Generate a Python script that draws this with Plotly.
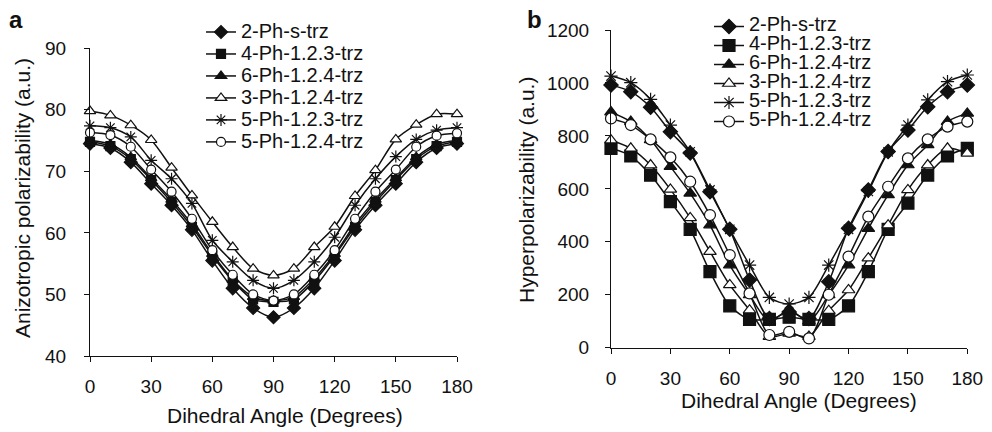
import plotly.graph_objects as go

# ---------------- data ----------------
angles = [0, 10, 20, 30, 40, 50, 60, 70, 80, 90, 100, 110, 120, 130, 140, 150, 160, 170, 180]
series_names = ["2-Ph-s-trz", "4-Ph-1.2.3-trz", "6-Ph-1.2.4-trz",
                "3-Ph-1.2.4-trz", "5-Ph-1.2.3-trz", "5-Ph-1.2.4-trz"]

# panel a: anisotropic polarizability (a.u.)
pol_2Ph_s = [74.5, 73.8, 71.5, 68.0, 64.5, 60.5, 55.5, 51.0, 47.8, 46.3, 47.8, 51.0, 55.5, 60.5, 64.5, 68.0, 71.5, 73.8, 74.5]
pol_4Ph_123 = [74.8, 74.1, 72.0, 68.6, 65.0, 61.0, 56.3, 52.2, 49.2, 48.8, 49.2, 52.2, 56.3, 61.0, 65.0, 68.6, 72.0, 74.1, 74.8]
pol_6Ph_124 = [75.0, 74.4, 72.3, 68.9, 65.4, 61.4, 56.6, 52.4, 49.6, 49.0, 49.6, 52.6, 56.6, 61.4, 65.4, 68.9, 72.3, 74.4, 75.0]
pol_3Ph_124 = [79.8, 79.1, 77.5, 75.1, 70.6, 66.1, 61.8, 57.7, 54.2, 53.1, 54.2, 57.7, 61.0, 66.0, 70.2, 75.2, 77.6, 79.3, 79.3]
pol_5Ph_123 = [77.4, 77.1, 75.6, 71.8, 68.8, 64.8, 58.8, 55.3, 52.3, 51.0, 52.3, 55.3, 59.3, 64.5, 68.8, 72.4, 75.2, 76.7, 77.1]
pol_5Ph_124 = [76.3, 75.9, 74.0, 70.3, 66.7, 62.3, 57.2, 53.2, 50.0, 49.0, 50.0, 53.2, 57.2, 62.3, 66.7, 70.3, 74.0, 75.8, 76.2]

# panel b: hyperpolarizability (a.u.)
hyp_2Ph_s = [992, 967, 908, 816, 735, 589, 447, 256, 110, 135, 110, 249, 451, 596, 741, 822, 910, 967, 992]
hyp_4Ph_123 = [753, 724, 652, 552, 447, 287, 158, 107, 107, 115, 107, 107, 158, 287, 447, 546, 652, 724, 753]
hyp_6Ph_124 = [890, 854, 785, 684, 583, 463, 312, 199, 100, 142, 100, 199, 312, 450, 577, 690, 766, 854, 885]
hyp_3Ph_124 = [784, 753, 690, 598, 490, 363, 237, 142, 42, 54, 42, 140, 218, 338, 463, 596, 690, 753, 734]
hyp_5Ph_123 = [1026, 1001, 938, 841, 740, 596, 447, 312, 190, 165, 190, 312, 447, 590, 740, 841, 936, 1005, 1030]
hyp_5Ph_124 = [866, 841, 787, 719, 627, 501, 350, 205, 48, 60, 35, 200, 344, 495, 608, 715, 787, 835, 854]

x_ticks = [0, 30, 60, 90, 120, 150, 180]
pol_ticks = [40, 50, 60, 70, 80, 90]
hyp_ticks = [0, 200, 400, 600, 800, 1000, 1200]

pol_series = [pol_2Ph_s, pol_4Ph_123, pol_6Ph_124, pol_3Ph_124, pol_5Ph_123, pol_5Ph_124]
hyp_series = [hyp_2Ph_s, hyp_4Ph_123, hyp_6Ph_124, hyp_3Ph_124, hyp_5Ph_123, hyp_5Ph_124]

# ---------------- style ----------------
FONT = "Liberation Sans, Arial, sans-serif"
INK = "#111111"
symbols = ["diamond", "square", "triangle-up", "triangle-up", "asterisk-open", "circle"]
fills = [INK, INK, INK, "white", INK, "white"]
sizes_a = [10, 9, 10, 10, 10, 9]
sizes_b = [11, 12, 11, 11, 11, 11]

fig = go.Figure()

for i, name in enumerate(series_names):
    fig.add_trace(go.Scatter(
        x=angles, y=pol_series[i], mode="lines+markers",
        name='<span style="font-size:20px">%s</span>' % name,
        line=dict(color=INK, width=1.5, shape="spline", smoothing=0.8),
        marker=dict(symbol=symbols[i], size=sizes_a[i], color=fills[i],
                    line=dict(color=INK, width=1.2)),
        cliponaxis=False, xaxis="x", yaxis="y", legend="legend"))

for i, name in enumerate(series_names):
    fig.add_trace(go.Scatter(
        x=angles, y=hyp_series[i], mode="lines+markers",
        name='<span style="font-size:20px">%s</span>' % name,
        line=dict(color=INK, width=1.5, shape="spline", smoothing=0.8),
        marker=dict(symbol=symbols[i], size=sizes_b[i], color=fills[i],
                    line=dict(color=INK, width=1.2)),
        cliponaxis=False, xaxis="x2", yaxis="y2", legend="legend2"))

W, H = 992, 432


def px(x):
    return x / W


def py(y):
    return (H - y) / H


axis_common = dict(showline=True, linecolor=INK, linewidth=1, ticks="outside",
                   ticklen=5, tickcolor=INK, tickwidth=1, showgrid=False,
                   zeroline=False, mirror=False, automargin=False,
                   tickfont=dict(family=FONT, size=19, color=INK))

fig.update_layout(
    template="none",
    width=W, height=H, margin=dict(l=0, r=0, t=0, b=0, pad=0, autoexpand=False),
    paper_bgcolor="white", plot_bgcolor="white",
    font=dict(family=FONT, color=INK),
    xaxis=dict(domain=[px(90), px(457)], range=[0, 180], tickvals=x_ticks,
               anchor="y", ticklabelstandoff=8, **axis_common),
    yaxis=dict(domain=[py(356), py(48.3)], range=[40, 90], tickvals=pol_ticks,
               anchor="x", ticklabelstandoff=14, **axis_common),
    xaxis2=dict(domain=[px(611), px(967.3)], range=[0, 180], tickvals=x_ticks,
                anchor="y2", ticklabelstandoff=8, **axis_common),
    yaxis2=dict(domain=[py(347.7), py(30)], range=[0, 1200], tickvals=hyp_ticks,
                anchor="x2", ticklabelstandoff=12, **axis_common),
    legend=dict(x=px(201), y=py(16), xanchor="left", yanchor="top",
                bgcolor="rgba(0,0,0,0)", borderwidth=0,
                font=dict(family=FONT, size=14.6, color=INK), itemsizing="trace"),
    legend2=dict(x=px(709), y=py(12), xanchor="left", yanchor="top",
                 bgcolor="rgba(0,0,0,0)", borderwidth=0,
                 font=dict(family=FONT, size=12, color=INK), itemsizing="trace"),
    showlegend=True,
)

ann_font = dict(family=FONT, size=21, color=INK)


def label(text, x, y, angle=0, font=ann_font):
    fig.add_annotation(text=text, x=px(x), y=py(y), xref="paper", yref="paper",
                       xanchor="center", yanchor="middle", showarrow=False,
                       textangle=angle, font=font)


label("Dihedral Angle (Degrees)", 285, 415)
label("Dihedral Angle (Degrees)", 799, 400)
label("Anizotropic polarizability (a.u.)", 22, 198, -90)
label("Hyperpolarizability (a.u.)", 527, 190, -90)
label("<b>a</b>", 16, 20, font=dict(family=FONT, size=24, color=INK))
label("<b>b</b>", 534, 20, font=dict(family=FONT, size=24, color=INK))

fig.write_html("out.html",
               config={"displayModeBar": False, "staticPlot": True},
               post_script="document.body.style.margin='0px';"
                           "document.body.style.overflow='hidden';")
